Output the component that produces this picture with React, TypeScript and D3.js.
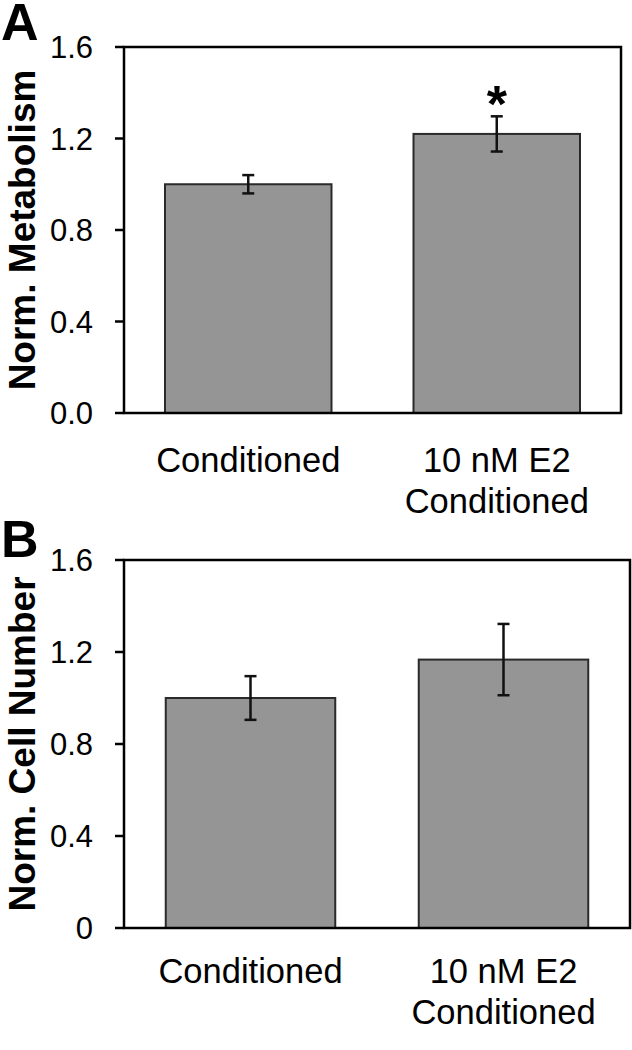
import React from "react";
import * as d3 from "d3";

const categories = ["Conditioned", "10 nM E2\nConditioned"];
const metabolismMeans = [1.0, 1.22];
const metabolismErrors = [0.04, 0.077];
const cellNumberMeans = [1.0, 1.167];
const cellNumberErrors = [0.095, 0.155];
const ticksA = [0, 0.4, 0.8, 1.2, 1.6];
const tickLabelsA = ["0.0", "0.4", "0.8", "1.2", "1.6"];
const ticksB = [0, 0.4, 0.8, 1.2, 1.6];
const tickLabelsB = ["0", "0.4", "0.8", "1.2", "1.6"];
const significance = ["", "*"];

const FONT = "'Liberation Sans', Arial, Helvetica, sans-serif";

type PanelProps = {
  letter: string;
  letterY: number;
  yLabel: string;
  means: number[];
  errors: number[];
  ticks: number[];
  tickLabels: string[];
  marks: string[];
  x0: number;
  x1: number;
  yTop: number;
  yBottom: number;
  catBase: number;
};

function Panel(p: PanelProps) {
  const x = d3.scaleBand<string>().domain(categories).range([p.x0, p.x1]).paddingInner(0.33).paddingOuter(0.165);
  const y = d3.scaleLinear().domain([0, 1.6]).range([p.yBottom, p.yTop]);
  const bw = x.bandwidth();
  const cap = 6;
  return (
    <g>
      <text x={1} y={p.letterY} fontFamily={FONT} fontWeight="bold" fontSize={52}>{p.letter}</text>
      <text
        transform={`translate(35, ${(p.yTop + p.yBottom) / 2}) rotate(-90)`}
        textAnchor="middle"
        fontFamily={FONT}
        fontWeight="bold"
        fontSize={37}
      >{p.yLabel}</text>
      {categories.map((c, i) => {
        const cx = (x(c) as number) + bw / 2;
        const v = p.means[i];
        const e = p.errors[i];
        return (
          <g key={c}>
            <rect x={x(c)} y={y(v)} width={bw} height={y(0) - y(v)} fill="#959595" stroke="#2a2a2a" strokeWidth={2} />
            <line x1={cx} x2={cx} y1={y(v + e)} y2={y(v - e)} stroke="#111" strokeWidth={2.5} />
            <line x1={cx - cap} x2={cx + cap} y1={y(v + e)} y2={y(v + e)} stroke="#111" strokeWidth={2.5} />
            <line x1={cx - cap} x2={cx + cap} y1={y(v - e)} y2={y(v - e)} stroke="#111" strokeWidth={2.5} />
            {p.marks[i] ? (
              <text x={cx} y={y(v + e) + 6} textAnchor="middle" fontFamily={FONT} fontWeight="bold" fontSize={52}>{p.marks[i]}</text>
            ) : null}
            {c.split("\n").map((line, j) => (
              <text key={j} x={cx} y={p.catBase + j * 41} textAnchor="middle" fontFamily={FONT} fontSize={34.5}>{line}</text>
            ))}
          </g>
        );
      })}
      <rect x={p.x0} y={p.yTop} width={p.x1 - p.x0} height={p.yBottom - p.yTop} fill="none" stroke="#000" strokeWidth={2.5} />
      {p.ticks.map((t, i) => (
        <g key={t}>
          <line x1={p.x0 - 9} x2={p.x0} y1={y(t)} y2={y(t)} stroke="#000" strokeWidth={2.5} />
          <text x={93} y={y(t)} dy="0.36em" textAnchor="end" fontFamily={FONT} fontSize={31}>{p.tickLabels[i]}</text>
        </g>
      ))}
    </g>
  );
}

export default function App() {
  return (
    <svg width={632} height={1050} style={{ position: "absolute", left: 0, top: 0, background: "#fff" }}>
      <rect width={632} height={1050} fill="#fff" />
      <Panel
        letter="A"
        letterY={40}
        yLabel="Norm. Metabolism"
        means={metabolismMeans}
        errors={metabolismErrors}
        ticks={ticksA}
        tickLabels={tickLabelsA}
        marks={significance}
        x0={124}
        x1={621}
        yTop={47}
        yBottom={413}
        catBase={472}
      />
      <Panel
        letter="B"
        letterY={557}
        yLabel="Norm. Cell Number"
        means={cellNumberMeans}
        errors={cellNumberErrors}
        ticks={ticksB}
        tickLabels={tickLabelsB}
        marks={["", ""]}
        x0={124}
        x1={630}
        yTop={560}
        yBottom={928}
        catBase={983}
      />
    </svg>
  );
}
